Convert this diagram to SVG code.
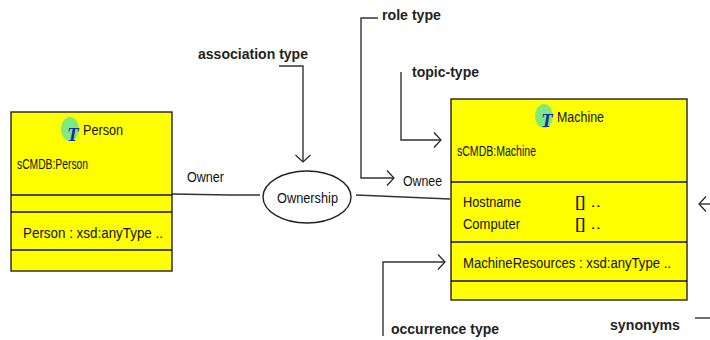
<svg xmlns="http://www.w3.org/2000/svg" width="710" height="340" viewBox="0 0 710 340">
<defs>
<marker id="open" markerUnits="userSpaceOnUse" markerWidth="14" markerHeight="18" refX="12" refY="9" orient="auto"><path d="M5 1.5L12 9L5 16.5" fill="none" stroke="#222" stroke-width="1.2"/></marker>
</defs>
<style>
text{font-family:"Liberation Sans",Arial,sans-serif;fill:#111}
.n{font-size:15.5px}
.s{font-size:14.5px}
.b{font-size:15px;font-weight:bold;fill:#222}
.box{fill:#ffff00;stroke:#222;stroke-width:1.4}
.sep{stroke:#111;stroke-width:1.4;fill:none}
.c{fill:none;stroke:#333;stroke-width:1.4}
.ci{fill:#7fe87f}
.t{font-family:"Liberation Serif",serif;font-style:italic;font-weight:bold;font-size:19px;fill:#1a2fa0}
</style>
<g id="connectors">
<path class="c" d="M172 194L230 195L260 195"/>
<path class="c" d="M356 195L450 199"/>
<path class="c" d="M279 66H303V162" marker-end="url(#open)"/>
<path class="c" d="M401 72V140H441" marker-end="url(#open)"/>
<path class="c" d="M378 18H361V178H394" marker-end="url(#open)"/>
<path class="c" d="M383 336V262H445" marker-end="url(#open)"/>
<path class="c" d="M695 318H710"/>
<path class="c" d="M710 204H699" marker-end="url(#open)"/>
</g>
<g id="person">
<rect class="box" x="11" y="112" width="161" height="159"/>
<path class="sep" d="M11 195H172M11 212H172M11 250H172"/>
<ellipse class="ci" cx="70" cy="129" rx="9" ry="12"/>
<text class="t" x="67" y="141">T</text>
<text class="n" x="83" y="135" textLength="40" lengthAdjust="spacingAndGlyphs">Person</text>
<text class="s" x="17" y="169" textLength="71" lengthAdjust="spacingAndGlyphs">sCMDB:Person</text>
<text class="n" x="23" y="238" textLength="140" lengthAdjust="spacingAndGlyphs">Person : xsd:anyType ..</text>
</g>
<g id="ownership">
<ellipse cx="307" cy="197" rx="44" ry="26" fill="#fff" stroke="#222" stroke-width="1.4"/>
<text class="n" x="277" y="203" textLength="61" lengthAdjust="spacingAndGlyphs">Ownership</text>
</g>
<g id="machine">
<rect class="box" x="451" y="99" width="236" height="201"/>
<path class="sep" d="M451 182H687M451 242H687M451 281H687"/>
<ellipse class="ci" cx="544" cy="116" rx="9" ry="12"/>
<text class="t" x="541" y="127">T</text>
<text class="n" x="557" y="122" textLength="47" lengthAdjust="spacingAndGlyphs">Machine</text>
<text class="s" x="457" y="156" textLength="79" lengthAdjust="spacingAndGlyphs">sCMDB:Machine</text>
<text class="n" x="463" y="207" textLength="58" lengthAdjust="spacingAndGlyphs">Hostname</text>
<text class="n" x="463" y="229" textLength="57" lengthAdjust="spacingAndGlyphs">Computer</text>
<text class="n" x="575" y="207" textLength="26" lengthAdjust="spacingAndGlyphs">[] ..</text>
<text class="n" x="575" y="229" textLength="26" lengthAdjust="spacingAndGlyphs">[] ..</text>
<text class="n" x="463" y="268" textLength="208" lengthAdjust="spacingAndGlyphs">MachineResources : xsd:anyType ..</text>
</g>
<g id="labels">
<text class="n" x="187" y="182" textLength="37" lengthAdjust="spacingAndGlyphs">Owner</text>
<text class="n" x="403" y="186" textLength="39" lengthAdjust="spacingAndGlyphs">Ownee</text>
<text class="b" x="198" y="59" textLength="110" lengthAdjust="spacingAndGlyphs">association type</text>
<text class="b" x="382" y="20" textLength="59" lengthAdjust="spacingAndGlyphs">role type</text>
<text class="b" x="412" y="77" textLength="67" lengthAdjust="spacingAndGlyphs">topic-type</text>
<text class="b" x="391" y="334" textLength="108" lengthAdjust="spacingAndGlyphs">occurrence type</text>
<text class="b" x="610" y="330" textLength="70" lengthAdjust="spacingAndGlyphs">synonyms</text>
</g>
</svg>
